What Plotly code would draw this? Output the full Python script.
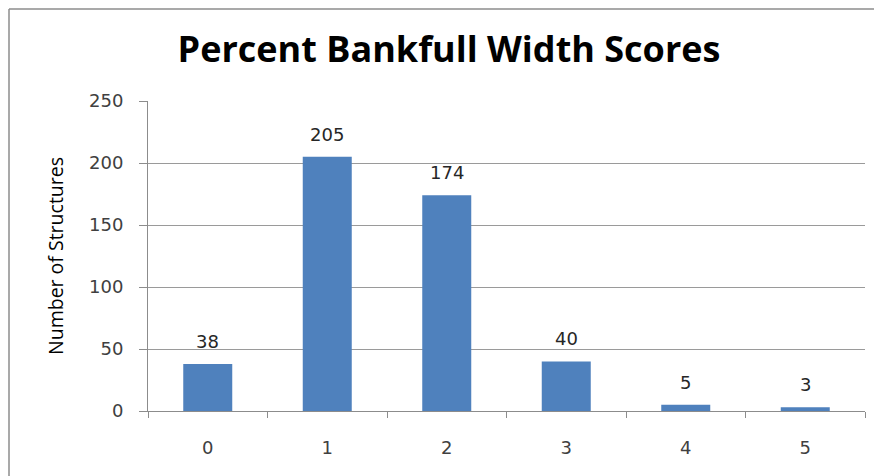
import plotly.graph_objects as go

categories = ["0", "1", "2", "3", "4", "5"]
values = [38, 205, 174, 40, 5, 3]
y_ticks = [0, 50, 100, 150, 200, 250]

W, H = 874, 468
L, R, T, B = 140, 17, 93, 65
PW, PH = W - L - R, H - T - B
TICKFONT = "DejaVu Sans, sans-serif"

fig = go.Figure(go.Bar(
    x=categories, y=values,
    marker=dict(color="#4f81bd", line=dict(width=0)),
    hoverinfo="x+y",
))

for c, v in zip(categories, values):
    fig.add_annotation(x=c, y=v, text=str(v), showarrow=False,
                       yanchor="bottom", yshift=10,
                       font=dict(family=TICKFONT, size=18, color="#262626"))

fig.update_layout(
    width=W, height=H,
    margin=dict(l=L, r=R, t=T, b=B),
    paper_bgcolor="white", plot_bgcolor="white",
    bargap=0.59,
    showlegend=False,
    title=dict(text="<b>Percent Bankfull Width Scores</b>",
               x=441 / W, xanchor="center", xref="container",
               y=1 - 41 / H, yanchor="middle", yref="container",
               font=dict(family="Open Sans, sans-serif", size=36, color="black")),
    xaxis=dict(
        type="category", tickson="boundaries",
        ticks="outside", ticklen=6, tickcolor="#8c8c8c",
        showline=True, linecolor="#8c8c8c", linewidth=1,
        showgrid=False,
        tickfont=dict(family=TICKFONT, size=18, color="#404040"),
        ticklabelstandoff=20,
    ),
    yaxis=dict(
        range=[0, 250], tickvals=y_ticks,
        ticks="outside", ticklen=8, tickcolor="#8c8c8c",
        showline=True, linecolor="#8c8c8c", linewidth=1,
        showgrid=True, gridcolor="#9a9a9a", gridwidth=1,
        zeroline=False,
        tickfont=dict(family=TICKFONT, size=18, color="#404040"),
        ticklabelstandoff=12,
        title=dict(text="Number of Structures", standoff=20,
                   font=dict(family="Open Sans, sans-serif", size=19.5, color="black")),
    ),
)

# outer chart border (top and left edges visible in the reference)
x_left = (1 - L) / PW
y_top = (H - B - 1) / PH
fig.add_shape(type="line", xref="paper", yref="paper",
              x0=x_left, x1=(W - L) / PW, y0=y_top, y1=y_top,
              line=dict(color="#8c8c8c", width=1.5))
fig.add_shape(type="line", xref="paper", yref="paper",
              x0=x_left, x1=x_left, y0=-B / PH, y1=y_top,
              line=dict(color="#8c8c8c", width=1.5))

fig.write_html(
    "out.html",
    post_script="document.documentElement.style.overflow='hidden';"
                "document.body.style.overflow='hidden';",
)
